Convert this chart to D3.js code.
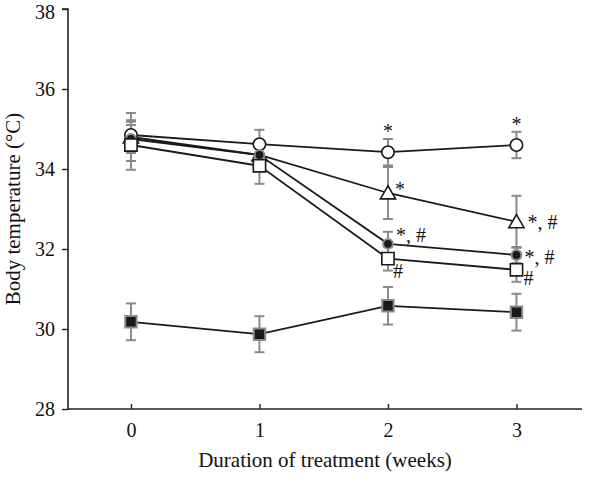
<!DOCTYPE html>
<html>
<head>
<meta charset="utf-8">
<script src="https://cdn.jsdelivr.net/npm/d3@7.9.0/dist/d3.min.js"></script>
<style>
  body { margin: 0; background: #fff; }
  svg { display: block; font-family: "Liberation Serif", "DejaVu Serif", serif; }
</style>
</head>
<body>
<svg width="616" height="489"></svg>
<script>
const weeks = [0, 1, 2, 3];
const yTicks = [28, 30, 32, 34, 36, 38];

// means per group
const openCircle   = [34.85, 34.62, 34.42, 34.60];
const triangle     = [34.80, 34.35, 33.40, 32.68];
const filledCircle = [34.75, 34.35, 32.13, 31.85];
const openSquare   = [34.60, 34.08, 31.76, 31.48];
const filledSquare = [30.18, 29.87, 30.58, 30.42];

// standard errors
const openCircleErr   = [0.33, 0.36, 0.33, 0.33];
const triangleErr     = [0.60, 0.30, 0.65, 0.65];
const filledCircleErr = [0.35, 0.30, 0.30, 0.20];
const openSquareErr   = [0.62, 0.45, 0.30, 0.30];
const filledSquareErr = [0.46, 0.45, 0.47, 0.46];

// significance marks: [week, label]
const openCircleMarks   = [[2, "*"], [3, "*"]];
const triangleMarks     = [[2, "*"], [3, "*, #"]];
const filledCircleMarks = [[2, "*, #"], [3, "*, #"]];
const openSquareMarks   = [[2, "#"], [3, "#"]];

// drawing order: triangle sits underneath the circles at weeks 0 and 1
const series = [
  { values: triangle, err: triangleErr, shape: "triangle", marks: triangleMarks },
  { values: openCircle, err: openCircleErr, shape: "circle", marks: openCircleMarks },
  { values: filledCircle, err: filledCircleErr, shape: "dot", marks: filledCircleMarks },
  { values: openSquare, err: openSquareErr, shape: "square", marks: openSquareMarks },
  { values: filledSquare, err: filledSquareErr, shape: "fsquare", marks: [] }
];

// where each annotation sits relative to its point
const markOffset = {
  circle:   (cx, cy, top) => [cx, top - 1, "middle"],
  triangle: (cx, cy, top, wk) => wk === 2 ? [cx + 7, cy + 3, "start"] : [cx + 11, cy + 7, "start"],
  dot:      (cx, cy, top, wk) => wk === 2 ? [cx + 8, cy - 2, "start"] : [cx + 8, cy + 9, "start"],
  square:   (cx, cy, top, wk) => wk === 2 ? [cx + 5, cy + 19, "start"] : [cx + 7, cy + 15, "start"]
};

const svg = d3.select("svg");
const x = d3.scaleLinear().domain([-0.49, 3.51]).range([68, 582]);
const y = d3.scaleLinear().domain([28, 38]).range([409, 9]);

// axes
const yAxis = svg.append("g")
  .attr("transform", "translate(68,0)")
  .call(d3.axisLeft(y).tickValues(yTicks).tickFormat(d3.format("d")).tickSize(6).tickPadding(7));
const xAxis = svg.append("g")
  .attr("transform", "translate(0,409)")
  .call(d3.axisBottom(x).tickValues(weeks).tickFormat(d3.format("d")).tickSize(-5).tickPadding(14).tickSizeOuter(0));

[yAxis, xAxis].forEach(g => {
  g.select(".domain").attr("stroke", "#222").attr("stroke-width", 1.6);
  g.selectAll(".tick line").attr("stroke", "#222").attr("stroke-width", 1.4);
  g.selectAll("text").attr("fill", "#111").style("font-size", "20px").style("font-family", "Liberation Serif, serif");
});
yAxis.select(".domain").attr("d", "M-6,9H0V409");
xAxis.select(".domain").attr("d", "M68,0H582");
// keep the top label inside the picture
yAxis.selectAll(".tick text").filter(d => d === 38).attr("dy", "0.46em");

svg.append("text")
  .attr("x", 325).attr("y", 467)
  .attr("text-anchor", "middle")
  .style("font-size", "21px").attr("fill", "#111")
  .text("Duration of treatment (weeks)");

svg.append("text")
  .attr("transform", "translate(20,209) rotate(-90)")
  .attr("text-anchor", "middle")
  .style("font-size", "21px").attr("fill", "#111")
  .text("Body temperature (\u00B0C)");

const line = d3.line().x((d, i) => x(weeks[i])).y(d => y(d));

// error bars
series.forEach(s => {
  const g = svg.append("g").attr("stroke", "#8a8a8a").attr("stroke-width", 2);
  s.values.forEach((v, i) => {
    const cx = x(weeks[i]);
    const lo = y(v - s.err[i]), hi = y(v + s.err[i]);
    g.append("line").attr("x1", cx).attr("x2", cx).attr("y1", lo).attr("y2", hi);
    g.append("line").attr("x1", cx - 5).attr("x2", cx + 5).attr("y1", lo).attr("y2", lo);
    g.append("line").attr("x1", cx - 5).attr("x2", cx + 5).attr("y1", hi).attr("y2", hi);
  });
});

// lines
series.forEach(s => {
  svg.append("path").datum(s.values)
    .attr("d", line)
    .attr("fill", "none")
    .attr("stroke", "#1a1a1a")
    .attr("stroke-width", 1.8);
});

// markers
const sym = {
  circle: d3.symbol(d3.symbolCircle, 120),
  dot: d3.symbol(d3.symbolCircle, 75),
  triangle: d3.symbol(d3.symbolTriangle, 100),
  square: d3.symbol(d3.symbolSquare, 150),
  fsquare: d3.symbol(d3.symbolSquare, 130)
};
series.forEach(s => {
  const dark = s.shape === "dot" || s.shape === "fsquare";
  svg.append("g").selectAll("path")
    .data(s.values)
    .join("path")
    .attr("transform", (d, i) => `translate(${x(weeks[i])},${y(d) + (s.shape === "triangle" ? 1.5 : 0)})`)
    .attr("d", sym[s.shape]())
    .attr("fill", dark ? "#1a1a1a" : "#fff")
    .attr("stroke", dark ? "#8a8a8a" : "#1a1a1a")
    .attr("stroke-width", dark ? 2 : 1.6);
});

// significance labels
series.forEach(s => {
  s.marks.forEach(([wk, label]) => {
    const i = weeks.indexOf(wk);
    const cx = x(wk), cy = y(s.values[i]);
    const top = y(s.values[i] + s.err[i]);
    const [tx, ty, anchor] = markOffset[s.shape](cx, cy, top, wk);
    svg.append("text")
      .attr("x", tx).attr("y", ty)
      .attr("text-anchor", anchor)
      .style("font-size", "20px")
      .attr("fill", "#111")
      .text(label);
  });
});
</script>
</body>
</html>
